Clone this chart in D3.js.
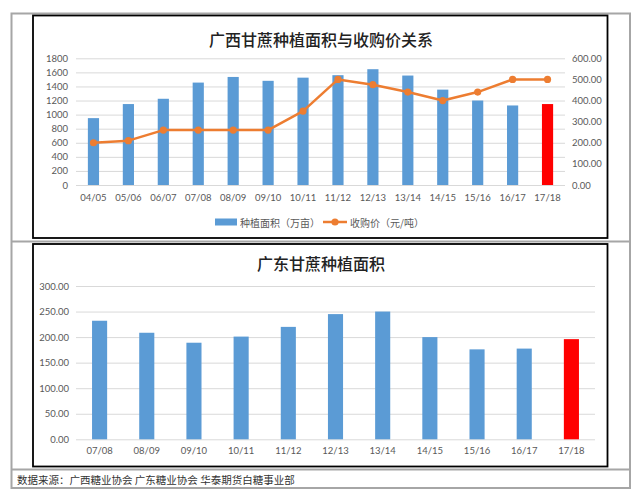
<!DOCTYPE html>
<html lang="zh">
<head>
<meta charset="utf-8">
<style>
  body { margin: 0; background: #fff; }
  svg { display: block; }
</style>
</head>
<body>
<script src="https://d3js.org/d3.v7.min.js"></script>
<script>
  // 广西: season, planted area (万亩), purchase price (元/吨)
  const gxSeasons = ["04/05","05/06","06/07","07/08","08/09","09/10","10/11","11/12","12/13","13/14","14/15","15/16","16/17","17/18"];
  const gxArea = [950, 1150, 1225, 1455, 1535, 1480, 1525, 1560, 1645, 1555, 1355, 1200, 1130, 1150];
  const gxPrice = [200, 210, 260, 260, 260, 260, 350, 500, 475, 440, 400, 440, 500, 500];
  const gxAreaTicks = [0, 200, 400, 600, 800, 1000, 1200, 1400, 1600, 1800];
  const gxPriceTicks = [0, 100, 200, 300, 400, 500, 600];

  // 广东: season, planted area
  const gdSeasons = ["07/08","08/09","09/10","10/11","11/12","12/13","13/14","14/15","15/16","16/17","17/18"];
  const gdArea = [232, 208.5, 189, 201, 220, 245, 250, 200, 176, 177.5, 196];
  const gdTicks = [0, 50, 100, 150, 200, 250, 300];

  const width = 640, height = 498;
  const blue = "#5b9bd5", red = "#ff0000", orange = "#ed7d31", grid = "#d9d9d9", txt = "#595959";
  const numFont = "Lato, 'Liberation Sans', sans-serif";
  const cjkFont = "'Noto Sans CJK SC', sans-serif";

  const svg = d3.select("body")
    .append("svg")
    .attr("width", width)
    .attr("height", height);

  // frame (table look)
  const frame = svg.append("g").attr("fill", "none").attr("stroke", "#a6a6a6").attr("stroke-width", 2);
  frame.append("rect").attr("x", 11.5).attr("y", 13.5).attr("width", 618.5).attr("height", 474.5);
  frame.append("line").attr("x1", 11.5).attr("x2", 630).attr("y1", 241.5).attr("y2", 241.5);
  frame.append("line").attr("x1", 11.5).attr("x2", 630).attr("y1", 469.5).attr("y2", 469.5);

  svg.append("rect").attr("x", 33).attr("y", 15.5).attr("width", 574.5).attr("height", 222.5)
    .attr("fill", "#fff").attr("stroke", "#000").attr("stroke-width", 1.8);
  svg.append("rect").attr("x", 33).attr("y", 244).attr("width", 574.5).attr("height", 222.5)
    .attr("fill", "#fff").attr("stroke", "#000").attr("stroke-width", 1.8);

  // ---------- chart 1 ----------
  const x1 = d3.scaleBand().domain(gxSeasons).range([76, 565]);
  const yL = d3.scaleLinear().domain([0, 1800]).range([185, 58.3]);
  const yR = d3.scaleLinear().domain([0, 600]).range([185, 58.3]);

  const g1 = svg.append("g");
  g1.append("text").attr("x", 321).attr("y", 39).attr("text-anchor", "middle")
    .attr("dominant-baseline", "central")
    .style("font-family", cjkFont).style("font-size", "16px").style("font-weight", 500).attr("fill", "#222")
    .text("广西甘蔗种植面积与收购价关系");

  const leftAxis = g1.append("g").attr("transform", "translate(76,0)")
    .call(d3.axisLeft(yL).tickValues(gxAreaTicks).tickSize(-(565 - 76)).tickPadding(8).tickFormat(d3.format("d")));
  const rightAxis = g1.append("g").attr("transform", "translate(565,0)")
    .call(d3.axisRight(yR).tickValues(gxPriceTicks).tickSize(0).tickPadding(7).tickFormat(d3.format(".2f")));
  [leftAxis, rightAxis].forEach(a => {
    a.select(".domain").remove();
    a.selectAll("line").attr("stroke", grid);
    a.selectAll("text").style("font-family", numFont).style("font-size", "9.5px").attr("fill", txt);
  });

  g1.selectAll("rect.bar").data(gxArea).join("rect")
    .attr("class", "bar")
    .attr("x", (d, i) => x1(gxSeasons[i]) + x1.bandwidth() * 0.34)
    .attr("width", x1.bandwidth() * 0.32)
    .attr("y", d => yL(d))
    .attr("height", d => yL(0) - yL(d))
    .attr("fill", (d, i) => i === gxArea.length - 1 ? red : blue);

  const line = d3.line()
    .x((d, i) => x1(gxSeasons[i]) + x1.bandwidth() / 2)
    .y(d => yR(d));
  g1.append("path").datum(gxPrice).attr("d", line)
    .attr("fill", "none").attr("stroke", orange).attr("stroke-width", 2.5).attr("stroke-linejoin", "round");
  g1.selectAll("circle").data(gxPrice).join("circle")
    .attr("cx", (d, i) => x1(gxSeasons[i]) + x1.bandwidth() / 2)
    .attr("cy", d => yR(d))
    .attr("r", 3.6)
    .attr("fill", orange);

  const xAxis1 = g1.append("g").attr("transform", "translate(0,185)")
    .call(d3.axisBottom(x1).tickSize(0).tickPadding(9));
  xAxis1.select(".domain").remove();
  xAxis1.selectAll("text").style("font-family", numFont).style("font-size", "9.5px").attr("fill", txt);

  // legend
  const lg = g1.append("g").style("font-family", cjkFont).style("font-size", "10px").attr("fill", txt);
  lg.append("rect").attr("x", 215).attr("y", 218.5).attr("width", 22).attr("height", 7).attr("fill", blue);
  lg.append("text").attr("x", 240).attr("y", 222).attr("dominant-baseline", "central").text("种植面积（万亩）");
  lg.append("line").attr("x1", 323).attr("x2", 347).attr("y1", 222).attr("y2", 222)
    .attr("stroke", orange).attr("stroke-width", 2.5);
  lg.append("circle").attr("cx", 335).attr("cy", 222).attr("r", 3.6).attr("fill", orange);
  lg.append("text").attr("x", 350).attr("y", 222).attr("dominant-baseline", "central").text("收购价（元/吨）");

  // ---------- chart 2 ----------
  const x2 = d3.scaleBand().domain(gdSeasons).range([76, 595]);
  const y2 = d3.scaleLinear().domain([0, 300]).range([439.3, 286]);

  const g2 = svg.append("g");
  g2.append("text").attr("x", 321).attr("y", 263).attr("text-anchor", "middle")
    .attr("dominant-baseline", "central")
    .style("font-family", cjkFont).style("font-size", "16px").style("font-weight", 500).attr("fill", "#222")
    .text("广东甘蔗种植面积");

  const yAxis2 = g2.append("g").attr("transform", "translate(76,0)")
    .call(d3.axisLeft(y2).tickValues(gdTicks).tickSize(-(595 - 76)).tickPadding(7).tickFormat(d3.format(".2f")));
  yAxis2.select(".domain").remove();
  yAxis2.selectAll("line").attr("stroke", grid);
  yAxis2.selectAll("text").style("font-family", numFont).style("font-size", "9.5px").attr("fill", txt);

  g2.selectAll("rect.bar").data(gdArea).join("rect")
    .attr("class", "bar")
    .attr("x", (d, i) => x2(gdSeasons[i]) + x2.bandwidth() * 0.34)
    .attr("width", x2.bandwidth() * 0.32)
    .attr("y", d => y2(d))
    .attr("height", d => y2(0) - y2(d))
    .attr("fill", (d, i) => i === gdArea.length - 1 ? red : blue);

  const xAxis2 = g2.append("g").attr("transform", "translate(0,439.3)")
    .call(d3.axisBottom(x2).tickSize(0).tickPadding(8));
  xAxis2.select(".domain").remove();
  xAxis2.selectAll("text").style("font-family", numFont).style("font-size", "9.5px").attr("fill", txt);

  // source note
  svg.append("text").attr("x", 17).attr("y", 479).attr("dominant-baseline", "central")
    .style("font-family", cjkFont).style("font-size", "10.5px").attr("fill", "#333")
    .text("数据来源：广西糖业协会 广东糖业协会 华泰期货白糖事业部");
</script>
</body>
</html>
